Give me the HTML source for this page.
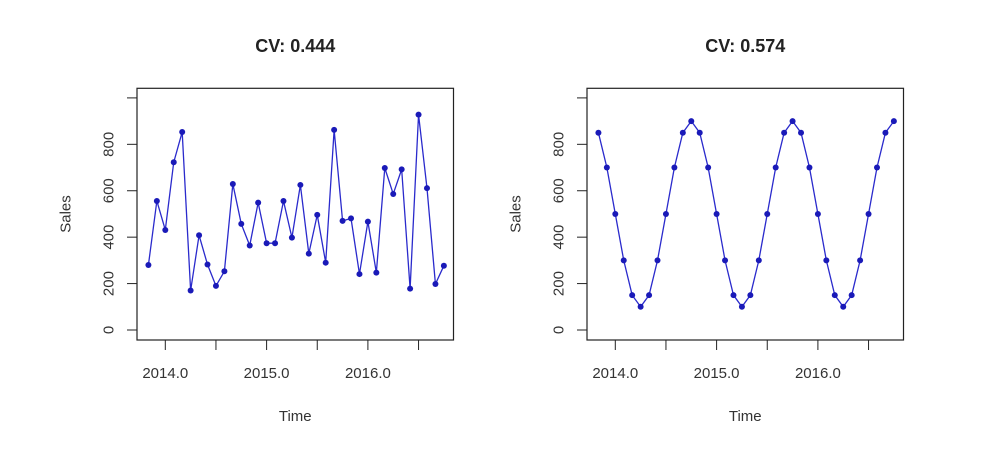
<!DOCTYPE html>
<html><head><meta charset="utf-8"><style>
body{margin:0;background:#fff;width:993px;height:446px;overflow:hidden}
svg{font-family:"Liberation Sans",Arial,sans-serif}
</style></head><body>
<svg id="chart" width="993" height="446"></svg>
<script>
const startYear = 2013 + 10/12;
const freq = 12;
const salesLeft = [280,556,431,723,853,170,408,282,190,253,629,457,364,549,374,374,556,398,625,329,496,290,862,470,481,241,467,247,698,586,692,178,928,611,198,277];
const salesRight = [850,700,500,300,150,100,150,300,500,700,850,900,850,700,500,300,150,100,150,300,500,700,850,900,850,700,500,300,150,100,150,300,500,700,850,900];
const titles = ["CV: 0.444","CV: 0.574"];
const yTicks = [0,200,400,600,800,1000];
const yTickLabels = ["0","200","400","600","800",""];
const xTicks = [2014.0,2014.5,2015.0,2015.5,2016.0,2016.5];
const xTickLabels = ["2014.0","","2015.0","","2016.0",""];

const NS="http://www.w3.org/2000/svg";
const svg=document.getElementById('chart');
function mk(tag,attrs,parent){const e=document.createElementNS(NS,tag);for(const k in attrs)e.setAttribute(k,attrs[k]);(parent||svg).appendChild(e);return e;}

function panel(offset, values, title, idx){
  const g=mk('g',{});
  
  
  const left=137+offset, right=453.5+offset, top=88.3, bottom=340;
  const x=t=>165.3+offset+(t-2014)*101.3;
  const y=v=>330-v*0.2321;
  const box=mk('rect',{x:left,y:top,width:right-left,height:bottom-top,fill:'none',stroke:'#222','stroke-width':1.2},g);
  
  
  const tt=mk('text',{x:(left+right)/2,y:52,'text-anchor':'middle','font-size':18,'font-weight':'bold',fill:'#222'},g);
  tt.textContent=title;
  
  
  yTicks.forEach((v,i)=>{
    mk('line',{x1:left-10,x2:left,y1:y(v),y2:y(v),stroke:'#222','stroke-width':1},g);
    if(yTickLabels[i]){
      const t=mk('text',{x:0,y:0,transform:`translate(${left-28},${y(v)}) rotate(-90)`,'text-anchor':'middle','dominant-baseline':'central','font-size':15,fill:'#333'},g);
      t.textContent=yTickLabels[i];
      
      
    }
  });
  xTicks.forEach((v,i)=>{
    mk('line',{x1:x(v),x2:x(v),y1:bottom,y2:bottom+10,stroke:'#222','stroke-width':1},g);
    if(xTickLabels[i]){
      const t=mk('text',{x:x(v),y:378,'text-anchor':'middle','font-size':15,fill:'#333'},g);
      t.textContent=xTickLabels[i];
      
      
    }
  });
  const yl=mk('text',{x:0,y:0,transform:`translate(${left-71},214) rotate(-90)`,'text-anchor':'middle','dominant-baseline':'central','font-size':15,fill:'#333'},g);
  yl.textContent='Sales';
  
  
  const xl=mk('text',{x:(left+right)/2,y:421,'text-anchor':'middle','font-size':15,fill:'#333'},g);
  xl.textContent='Time';
  
  
  const pts=values.map((v,i)=>[x(startYear+i/freq),y(v)]);
  const line=mk('polyline',{points:pts.map(p=>p.join(',')).join(' '),fill:'none',stroke:'#2a2acc','stroke-width':1.3},g);
  
  
  pts.forEach(p=>{
    const c=mk('circle',{cx:p[0],cy:p[1],r:3,fill:'#1a1ab8'},g);
    
    
  });
}
panel(0,salesLeft,titles[0],0);
panel(450,salesRight,titles[1],1);
</script>
</body></html>
